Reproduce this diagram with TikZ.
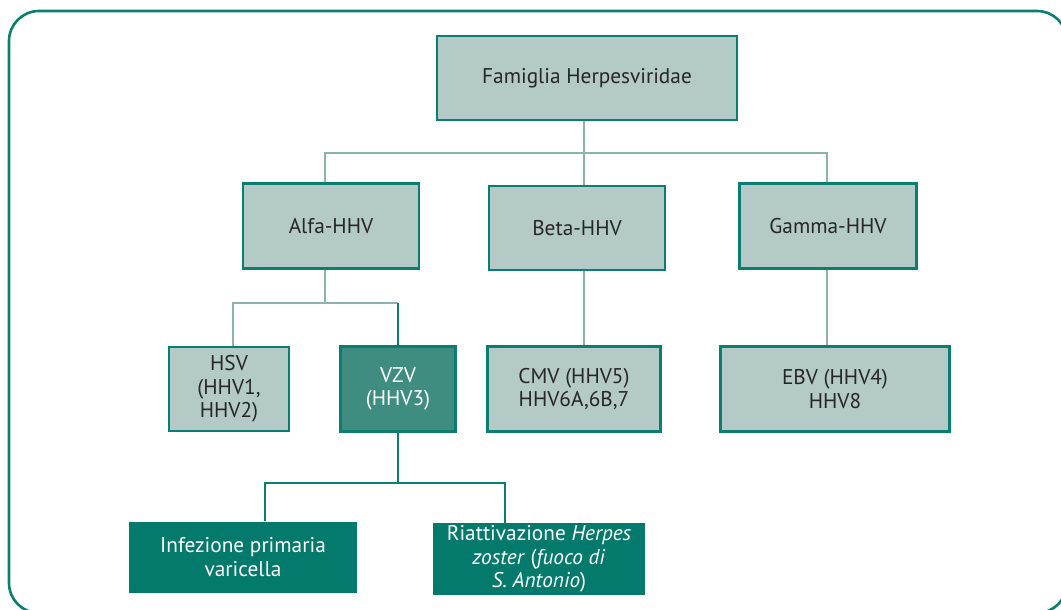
\documentclass[tikz,border=0pt]{standalone}
\usepackage{fontspec}
\setmainfont{PT Sans}
\usepackage{xcolor}
\usetikzlibrary{positioning}

\definecolor{frameteal}{HTML}{0A7E70}
\definecolor{boxfill}{HTML}{B4CAC6}
\definecolor{linkgrey}{HTML}{8CB3AC}
\definecolor{vzvfill}{HTML}{3F8D80}
\definecolor{darkfill}{HTML}{047A6D}
\definecolor{textdark}{HTML}{262626}

\begin{document}
\begin{tikzpicture}[
    x=1pt, y=-1pt,
    every node/.style={font=\fontsize{21.3}{23.5}\selectfont, align=center, inner sep=0pt},
    lightbox/.style={rectangle, draw=frameteal, fill=boxfill, line width=2.4pt, text=textdark},
    vzvbox/.style={rectangle, draw=frameteal, fill=vzvfill, line width=2.4pt, text=white},
    darkbox/.style={rectangle, fill=darkfill, text=white},
    link/.style={draw=linkgrey, line width=2pt},
    darklink/.style={draw=frameteal, line width=2pt}
]
\useasboundingbox (0,0) rectangle (1061,610);
\begin{scope}
  \clip (0,0) rectangle (1061,610);
  \draw[frameteal, line width=2.6pt, rounded corners=30pt] (9,11) rectangle (1067,613);
\end{scope}

% family and subfamilies
\node[lightbox, minimum width=300pt, minimum height=84pt] (fam) at (587,78) {Famiglia Herpesviridae};
\node[lightbox, minimum width=176pt, minimum height=85pt] (alfa) at (331,226) {Alfa-HHV};
\node[lightbox, minimum width=176pt, minimum height=84pt] (beta) at (577,228) {Beta-HHV};
\node[lightbox, minimum width=177pt, minimum height=85pt] (gamma) at (828,226) {Gamma-HHV};

% viruses
\node[lightbox, minimum width=120pt, minimum height=84pt] (hsv) at (229,389) {HSV\\(HHV1,\\HHV2)};
\node[vzvbox, minimum width=115pt, minimum height=85pt] (vzv) at (398,389) {VZV\\(HHV3)};
\node[lightbox, minimum width=173pt, minimum height=85pt] (cmv) at (574,389) {CMV (HHV5)\\HHV6A,6B,7};
\node[lightbox, minimum width=229pt, minimum height=85pt] (ebv) at (835,389) {EBV (HHV4)\\HHV8};

% VZV outcomes
\node[darkbox, minimum width=228pt, minimum height=71pt] (inf) at (243,557) {Infezione primaria\\varicella};
\node[darkbox, minimum width=212pt, minimum height=72pt] (ria) at (539,559)
  {Riattivazione \emph{Herpes}\\\emph{zoster} (\emph{fuoco di}\\\emph{S. Antonio})};

% connectors
\coordinate (ja) at (325,153);
\coordinate (jb) at (584,153);
\coordinate (jg) at (827,153);
\coordinate (jh) at (233,303);
\coordinate (jv) at (398,303);
\coordinate (ji) at (265,483);
\coordinate (jr) at (505,483);

\draw[link] (fam.south -| jb) -- (jb);
\draw[link] (alfa.north -| ja) -- (ja) -- (jg) -- (gamma.north -| jg);
\draw[link] (jb) -- (beta.north -| jb);
\draw[link] (beta.south -| jb) -- (cmv.north -| jb);
\draw[link] (gamma.south -| jg) -- (ebv.north -| jg);
\draw[link] (alfa.south -| ja) -- (ja |- jh);
\draw[link] (hsv.north -| jh) -- (jh) -- (jv);
\draw[darklink] (jv) -- (vzv.north);
\draw[darklink] (vzv.south) -- (vzv.south |- ji);
\draw[darklink] (inf.north -| ji) -- (ji) -- (jr) -- (ria.north -| jr);

\end{tikzpicture}
\end{document}
